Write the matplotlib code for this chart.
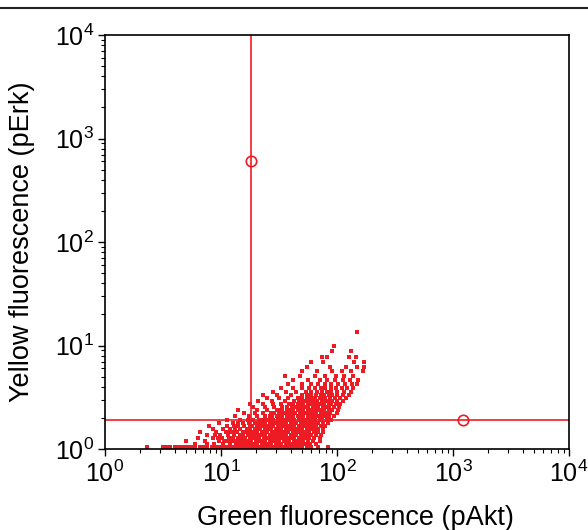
import numpy as np
import matplotlib.pyplot as plt
from matplotlib.lines import Line2D

plt.rcParams['font.family'] = ['Liberation Sans', 'DejaVu Sans']
plt.rcParams['mathtext.default'] = 'regular'

# events, as log10 values, grouped by row of log10(yellow)
row_log_yellow = [0.015, 0.045, 0.075, 0.105, 0.135, 0.165, 0.195, 0.225, 0.255, 0.285,
                  0.315, 0.345, 0.375, 0.405, 0.435, 0.465, 0.495, 0.525, 0.555,
                  0.59, 0.63, 0.67, 0.71, 0.75, 0.79, 0.84, 0.89, 0.95, 1.00, 1.13]
row_log_green = [
    [0.36, 0.50, 0.53, 0.56, 0.60, 0.64, 0.67, 0.71, 0.74, 0.78, 0.82, 0.85, 0.88, 0.92, 0.95,
     0.98, 1.01, 1.04, 1.07, 1.10, 1.13, 1.16, 1.19, 1.22, 1.25, 1.28, 1.31, 1.34, 1.37, 1.40,
     1.43, 1.46, 1.49, 1.52, 1.55, 1.58, 1.61, 1.64, 1.67, 1.70, 1.74, 1.78, 1.84, 1.92],
    [0.78, 0.88, 0.94, 1.02, 1.08, 1.13, 1.16, 1.20, 1.22, 1.26, 1.28, 1.31, 1.35, 1.37, 1.40,
     1.43, 1.47, 1.49, 1.52, 1.56, 1.58, 1.61, 1.65, 1.67, 1.70, 1.73, 1.77, 1.82],
    [0.70, 0.86, 0.98, 1.03, 1.05, 1.09, 1.12, 1.14, 1.17, 1.21, 1.23, 1.26, 1.30, 1.32, 1.35,
     1.38, 1.42, 1.44, 1.47, 1.50, 1.54, 1.56, 1.59, 1.63, 1.65, 1.68, 1.71, 1.75, 1.79, 1.85],
    [0.80, 0.93, 0.97, 1.01, 1.07, 1.10, 1.15, 1.18, 1.21, 1.25, 1.27, 1.30, 1.33, 1.37, 1.39,
     1.42, 1.46, 1.48, 1.51, 1.54, 1.58, 1.60, 1.63, 1.67, 1.69, 1.72, 1.76, 1.80, 1.85],
    [0.88, 0.95, 0.99, 1.06, 1.11, 1.16, 1.19, 1.23, 1.26, 1.29, 1.33, 1.35, 1.38, 1.42, 1.44,
     1.47, 1.51, 1.53, 1.56, 1.60, 1.62, 1.65, 1.69, 1.71, 1.74, 1.78, 1.82, 1.86],
    [0.82, 0.96, 1.04, 1.08, 1.10, 1.14, 1.19, 1.22, 1.26, 1.28, 1.31, 1.35, 1.37, 1.40, 1.44,
     1.46, 1.49, 1.53, 1.55, 1.58, 1.62, 1.64, 1.67, 1.71, 1.73, 1.76, 1.80, 1.84, 1.88],
    [0.93, 1.02, 1.08, 1.12, 1.16, 1.22, 1.25, 1.29, 1.32, 1.34, 1.38, 1.41, 1.43, 1.47, 1.50,
     1.52, 1.56, 1.59, 1.61, 1.65, 1.68, 1.70, 1.74, 1.77, 1.80, 1.84, 1.88],
    [0.90, 1.05, 1.11, 1.15, 1.20, 1.25, 1.27, 1.31, 1.34, 1.36, 1.40, 1.43, 1.45, 1.49, 1.52,
     1.54, 1.58, 1.61, 1.63, 1.67, 1.70, 1.72, 1.76, 1.79, 1.82, 1.86, 1.90],
    [0.98, 1.10, 1.15, 1.19, 1.24, 1.29, 1.33, 1.36, 1.38, 1.42, 1.45, 1.47, 1.51, 1.54, 1.56,
     1.60, 1.63, 1.65, 1.69, 1.72, 1.75, 1.78, 1.81, 1.84, 1.88, 1.92],
    [1.05, 1.16, 1.23, 1.28, 1.33, 1.36, 1.40, 1.42, 1.45, 1.49, 1.51, 1.54, 1.58, 1.60, 1.63,
     1.67, 1.69, 1.72, 1.76, 1.78, 1.81, 1.85, 1.87, 1.91, 1.95],
    [1.12, 1.24, 1.31, 1.38, 1.42, 1.44, 1.48, 1.51, 1.53, 1.57, 1.60, 1.62, 1.66, 1.69, 1.71,
     1.75, 1.78, 1.80, 1.84, 1.87, 1.90, 1.93, 1.97],
    [1.20, 1.29, 1.36, 1.43, 1.46, 1.50, 1.52, 1.55, 1.59, 1.61, 1.64, 1.68, 1.70, 1.73, 1.77,
     1.79, 1.82, 1.86, 1.88, 1.91, 1.94, 2.00],
    [1.15, 1.31, 1.40, 1.48, 1.51, 1.53, 1.57, 1.60, 1.62, 1.66, 1.69, 1.71, 1.75, 1.78, 1.80,
     1.84, 1.87, 1.89, 1.93, 1.96, 2.01],
    [1.28, 1.38, 1.46, 1.53, 1.57, 1.61, 1.63, 1.66, 1.70, 1.72, 1.75, 1.79, 1.81, 1.84, 1.88,
     1.90, 1.93, 1.97, 2.02],
    [1.25, 1.36, 1.45, 1.52, 1.59, 1.62, 1.66, 1.68, 1.71, 1.75, 1.77, 1.80, 1.84, 1.86, 1.89,
     1.93, 1.95, 1.99, 2.03],
    [1.32, 1.44, 1.55, 1.63, 1.67, 1.71, 1.74, 1.78, 1.80, 1.83, 1.87, 1.89, 1.92, 1.96, 2.00,
     2.05],
    [1.40, 1.50, 1.58, 1.66, 1.70, 1.74, 1.78, 1.81, 1.85, 1.87, 1.90, 1.94, 1.98, 2.03, 2.08],
    [1.36, 1.48, 1.60, 1.70, 1.74, 1.78, 1.82, 1.86, 1.89, 1.93, 1.96, 2.00, 2.05, 2.10],
    [1.45, 1.56, 1.65, 1.73, 1.78, 1.83, 1.87, 1.91, 1.95, 2.00, 2.06, 2.12],
    [1.52, 1.62, 1.70, 1.76, 1.81, 1.86, 1.90, 1.95, 1.99, 2.04, 2.09, 2.14],
    [1.58, 1.70, 1.78, 1.84, 1.90, 1.95, 2.01, 2.07, 2.13, 2.17],
    [1.62, 1.75, 1.85, 1.91, 1.98, 2.05, 2.11, 2.18],
    [1.55, 1.68, 1.81, 1.90, 1.99, 2.06, 2.14],
    [1.70, 1.83, 1.96, 2.04, 2.12, 2.22],
    [1.74, 1.94, 2.08, 2.17, 2.23],
    [1.78, 1.88, 2.15, 2.23],
    [1.87, 1.91, 2.10, 2.16],
    [1.96, 2.12],
    [1.97],
    [2.17],
]

# quadrant gate and its two handles
gate_green = 18.2
gate_yellow = 1.9
handle_green = [18.2, 1230]
handle_yellow = [600, 1.9]

green = []
yellow = []
for ly, lxs in zip(row_log_yellow, row_log_green):
    for lx in lxs:
        green.append(10 ** lx)
        yellow.append(10 ** ly)

red = '#ed1c24'

fig = plt.figure(figsize=(5.88, 5.30), dpi=100)
ax = fig.add_axes([105 / 588, 1 - 449 / 530, 464 / 588, 414 / 530])

ax.plot(green, yellow, 's', color=red, markersize=2.6, markeredgewidth=0, clip_on=True)
ax.axvline(gate_green, color=red, lw=1.2)
ax.axhline(gate_yellow, color=red, lw=1.2)
ax.plot(handle_green, handle_yellow, 'o', mfc='none', mec=red, mew=1.2, markersize=7.5)

ax.set_xscale('log')
ax.set_yscale('log')
ax.set_xlim(1, 1e4)
ax.set_ylim(1, 1e4)
ax.set_xticks([1, 10, 100, 1000, 10000])
ax.set_yticks([1, 10, 100, 1000, 10000])
ax.tick_params(which='major', direction='out', length=5, width=1, labelsize=18, pad=3)
ax.tick_params(which='minor', direction='out', length=3, width=0.8)
for s in ax.spines.values():
    s.set_linewidth(1.2)

ax.set_xlabel('Green fluorescence (pAkt)', fontsize=19.5)
ax.xaxis.set_label_coords(0.54, -0.135)
ax.set_ylabel('Yellow fluorescence (pErk)', fontsize=19.5)
ax.yaxis.set_label_coords(-0.15, 0.5)

fig.add_artist(Line2D([0, 1], [1 - 8 / 530, 1 - 8 / 530], color='#222222', lw=1.5))

fig.savefig('out.png', dpi=100)
